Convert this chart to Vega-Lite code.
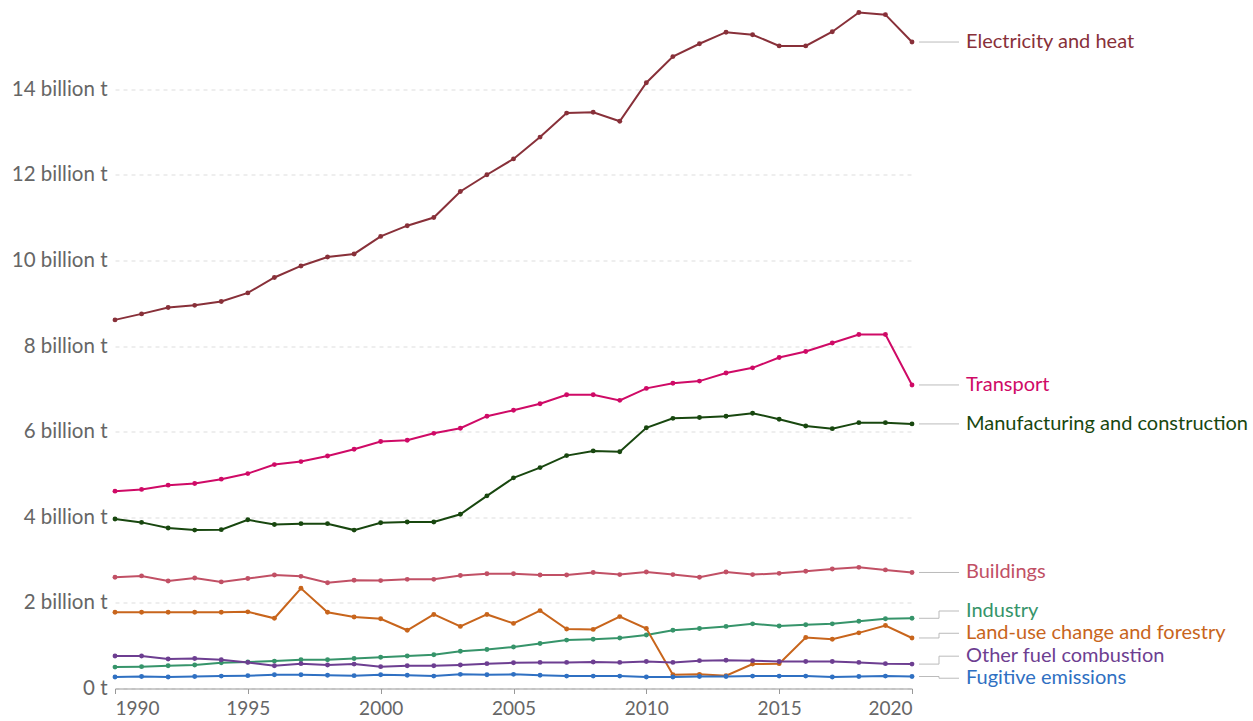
{
  "$schema": "https://vega.github.io/schema/vega-lite/v6.json",
  "autosize": "none",
  "width": 797,
  "height": 685,
  "padding": {"left": 115, "top": 3.5, "right": 341, "bottom": 32.5},
  "config": {"font": "Lato", "view": {"stroke": null}},
  "datasets": {
    "labels": [
      {"sector": "Electricity and heat", "labelAt": 15.10},
      {"sector": "Transport", "labelAt": 7.09},
      {"sector": "Manufacturing and construction", "labelAt": 6.18},
      {"sector": "Buildings", "labelAt": 2.71},
      {"sector": "Industry", "labelAt": 1.81},
      {"sector": "Land-use change and forestry", "labelAt": 1.29},
      {"sector": "Other fuel combustion", "labelAt": 0.755},
      {"sector": "Fugitive emissions", "labelAt": 0.24}
    ],
    "series": [
      {"sector":"Electricity and heat","year":1990,"value":8.61},{"sector":"Electricity and heat","year":1991,"value":8.75},{"sector":"Electricity and heat","year":1992,"value":8.90},{"sector":"Electricity and heat","year":1993,"value":8.95},{"sector":"Electricity and heat","year":1994,"value":9.04},{"sector":"Electricity and heat","year":1995,"value":9.24},{"sector":"Electricity and heat","year":1996,"value":9.60},{"sector":"Electricity and heat","year":1997,"value":9.87},{"sector":"Electricity and heat","year":1998,"value":10.08},{"sector":"Electricity and heat","year":1999,"value":10.15},{"sector":"Electricity and heat","year":2000,"value":10.56},{"sector":"Electricity and heat","year":2001,"value":10.81},{"sector":"Electricity and heat","year":2002,"value":11.00},{"sector":"Electricity and heat","year":2003,"value":11.61},{"sector":"Electricity and heat","year":2004,"value":12.00},{"sector":"Electricity and heat","year":2005,"value":12.37},{"sector":"Electricity and heat","year":2006,"value":12.88},{"sector":"Electricity and heat","year":2007,"value":13.44},{"sector":"Electricity and heat","year":2008,"value":13.46},{"sector":"Electricity and heat","year":2009,"value":13.25},{"sector":"Electricity and heat","year":2010,"value":14.15},{"sector":"Electricity and heat","year":2011,"value":14.76},{"sector":"Electricity and heat","year":2012,"value":15.06},{"sector":"Electricity and heat","year":2013,"value":15.33},{"sector":"Electricity and heat","year":2014,"value":15.27},{"sector":"Electricity and heat","year":2015,"value":15.01},{"sector":"Electricity and heat","year":2016,"value":15.01},{"sector":"Electricity and heat","year":2017,"value":15.34},{"sector":"Electricity and heat","year":2018,"value":15.79},{"sector":"Electricity and heat","year":2019,"value":15.74},{"sector":"Electricity and heat","year":2020,"value":15.10},
      {"sector":"Transport","year":1990,"value":4.61},{"sector":"Transport","year":1991,"value":4.65},{"sector":"Transport","year":1992,"value":4.75},{"sector":"Transport","year":1993,"value":4.79},{"sector":"Transport","year":1994,"value":4.89},{"sector":"Transport","year":1995,"value":5.02},{"sector":"Transport","year":1996,"value":5.23},{"sector":"Transport","year":1997,"value":5.30},{"sector":"Transport","year":1998,"value":5.43},{"sector":"Transport","year":1999,"value":5.59},{"sector":"Transport","year":2000,"value":5.77},{"sector":"Transport","year":2001,"value":5.80},{"sector":"Transport","year":2002,"value":5.96},{"sector":"Transport","year":2003,"value":6.08},{"sector":"Transport","year":2004,"value":6.36},{"sector":"Transport","year":2005,"value":6.50},{"sector":"Transport","year":2006,"value":6.65},{"sector":"Transport","year":2007,"value":6.86},{"sector":"Transport","year":2008,"value":6.86},{"sector":"Transport","year":2009,"value":6.73},{"sector":"Transport","year":2010,"value":7.01},{"sector":"Transport","year":2011,"value":7.13},{"sector":"Transport","year":2012,"value":7.18},{"sector":"Transport","year":2013,"value":7.37},{"sector":"Transport","year":2014,"value":7.49},{"sector":"Transport","year":2015,"value":7.73},{"sector":"Transport","year":2016,"value":7.87},{"sector":"Transport","year":2017,"value":8.07},{"sector":"Transport","year":2018,"value":8.27},{"sector":"Transport","year":2019,"value":8.27},{"sector":"Transport","year":2020,"value":7.09},
      {"sector":"Manufacturing and construction","year":1990,"value":3.96},{"sector":"Manufacturing and construction","year":1991,"value":3.88},{"sector":"Manufacturing and construction","year":1992,"value":3.75},{"sector":"Manufacturing and construction","year":1993,"value":3.70},{"sector":"Manufacturing and construction","year":1994,"value":3.71},{"sector":"Manufacturing and construction","year":1995,"value":3.94},{"sector":"Manufacturing and construction","year":1996,"value":3.83},{"sector":"Manufacturing and construction","year":1997,"value":3.85},{"sector":"Manufacturing and construction","year":1998,"value":3.85},{"sector":"Manufacturing and construction","year":1999,"value":3.70},{"sector":"Manufacturing and construction","year":2000,"value":3.87},{"sector":"Manufacturing and construction","year":2001,"value":3.89},{"sector":"Manufacturing and construction","year":2002,"value":3.89},{"sector":"Manufacturing and construction","year":2003,"value":4.07},{"sector":"Manufacturing and construction","year":2004,"value":4.50},{"sector":"Manufacturing and construction","year":2005,"value":4.92},{"sector":"Manufacturing and construction","year":2006,"value":5.16},{"sector":"Manufacturing and construction","year":2007,"value":5.44},{"sector":"Manufacturing and construction","year":2008,"value":5.55},{"sector":"Manufacturing and construction","year":2009,"value":5.53},{"sector":"Manufacturing and construction","year":2010,"value":6.09},{"sector":"Manufacturing and construction","year":2011,"value":6.31},{"sector":"Manufacturing and construction","year":2012,"value":6.33},{"sector":"Manufacturing and construction","year":2013,"value":6.36},{"sector":"Manufacturing and construction","year":2014,"value":6.43},{"sector":"Manufacturing and construction","year":2015,"value":6.29},{"sector":"Manufacturing and construction","year":2016,"value":6.13},{"sector":"Manufacturing and construction","year":2017,"value":6.07},{"sector":"Manufacturing and construction","year":2018,"value":6.21},{"sector":"Manufacturing and construction","year":2019,"value":6.21},{"sector":"Manufacturing and construction","year":2020,"value":6.18},
      {"sector":"Buildings","year":1990,"value":2.60},{"sector":"Buildings","year":1991,"value":2.63},{"sector":"Buildings","year":1992,"value":2.51},{"sector":"Buildings","year":1993,"value":2.58},{"sector":"Buildings","year":1994,"value":2.49},{"sector":"Buildings","year":1995,"value":2.57},{"sector":"Buildings","year":1996,"value":2.65},{"sector":"Buildings","year":1997,"value":2.62},{"sector":"Buildings","year":1998,"value":2.47},{"sector":"Buildings","year":1999,"value":2.53},{"sector":"Buildings","year":2000,"value":2.52},{"sector":"Buildings","year":2001,"value":2.55},{"sector":"Buildings","year":2002,"value":2.55},{"sector":"Buildings","year":2003,"value":2.64},{"sector":"Buildings","year":2004,"value":2.68},{"sector":"Buildings","year":2005,"value":2.68},{"sector":"Buildings","year":2006,"value":2.65},{"sector":"Buildings","year":2007,"value":2.65},{"sector":"Buildings","year":2008,"value":2.71},{"sector":"Buildings","year":2009,"value":2.66},{"sector":"Buildings","year":2010,"value":2.72},{"sector":"Buildings","year":2011,"value":2.66},{"sector":"Buildings","year":2012,"value":2.60},{"sector":"Buildings","year":2013,"value":2.72},{"sector":"Buildings","year":2014,"value":2.66},{"sector":"Buildings","year":2015,"value":2.69},{"sector":"Buildings","year":2016,"value":2.74},{"sector":"Buildings","year":2017,"value":2.79},{"sector":"Buildings","year":2018,"value":2.83},{"sector":"Buildings","year":2019,"value":2.77},{"sector":"Buildings","year":2020,"value":2.71},
      {"sector":"Industry","year":1990,"value":0.50},{"sector":"Industry","year":1991,"value":0.51},{"sector":"Industry","year":1992,"value":0.53},{"sector":"Industry","year":1993,"value":0.55},{"sector":"Industry","year":1994,"value":0.60},{"sector":"Industry","year":1995,"value":0.62},{"sector":"Industry","year":1996,"value":0.64},{"sector":"Industry","year":1997,"value":0.67},{"sector":"Industry","year":1998,"value":0.67},{"sector":"Industry","year":1999,"value":0.70},{"sector":"Industry","year":2000,"value":0.73},{"sector":"Industry","year":2001,"value":0.76},{"sector":"Industry","year":2002,"value":0.79},{"sector":"Industry","year":2003,"value":0.87},{"sector":"Industry","year":2004,"value":0.91},{"sector":"Industry","year":2005,"value":0.97},{"sector":"Industry","year":2006,"value":1.05},{"sector":"Industry","year":2007,"value":1.13},{"sector":"Industry","year":2008,"value":1.15},{"sector":"Industry","year":2009,"value":1.18},{"sector":"Industry","year":2010,"value":1.25},{"sector":"Industry","year":2011,"value":1.36},{"sector":"Industry","year":2012,"value":1.40},{"sector":"Industry","year":2013,"value":1.45},{"sector":"Industry","year":2014,"value":1.51},{"sector":"Industry","year":2015,"value":1.46},{"sector":"Industry","year":2016,"value":1.49},{"sector":"Industry","year":2017,"value":1.51},{"sector":"Industry","year":2018,"value":1.57},{"sector":"Industry","year":2019,"value":1.63},{"sector":"Industry","year":2020,"value":1.64},
      {"sector":"Land-use change and forestry","year":1990,"value":1.78},{"sector":"Land-use change and forestry","year":1991,"value":1.78},{"sector":"Land-use change and forestry","year":1992,"value":1.78},{"sector":"Land-use change and forestry","year":1993,"value":1.78},{"sector":"Land-use change and forestry","year":1994,"value":1.78},{"sector":"Land-use change and forestry","year":1995,"value":1.79},{"sector":"Land-use change and forestry","year":1996,"value":1.64},{"sector":"Land-use change and forestry","year":1997,"value":2.34},{"sector":"Land-use change and forestry","year":1998,"value":1.78},{"sector":"Land-use change and forestry","year":1999,"value":1.67},{"sector":"Land-use change and forestry","year":2000,"value":1.63},{"sector":"Land-use change and forestry","year":2001,"value":1.36},{"sector":"Land-use change and forestry","year":2002,"value":1.73},{"sector":"Land-use change and forestry","year":2003,"value":1.45},{"sector":"Land-use change and forestry","year":2004,"value":1.73},{"sector":"Land-use change and forestry","year":2005,"value":1.52},{"sector":"Land-use change and forestry","year":2006,"value":1.82},{"sector":"Land-use change and forestry","year":2007,"value":1.39},{"sector":"Land-use change and forestry","year":2008,"value":1.38},{"sector":"Land-use change and forestry","year":2009,"value":1.68},{"sector":"Land-use change and forestry","year":2010,"value":1.40},{"sector":"Land-use change and forestry","year":2011,"value":0.32},{"sector":"Land-use change and forestry","year":2012,"value":0.33},{"sector":"Land-use change and forestry","year":2013,"value":0.30},{"sector":"Land-use change and forestry","year":2014,"value":0.57},{"sector":"Land-use change and forestry","year":2015,"value":0.58},{"sector":"Land-use change and forestry","year":2016,"value":1.19},{"sector":"Land-use change and forestry","year":2017,"value":1.15},{"sector":"Land-use change and forestry","year":2018,"value":1.30},{"sector":"Land-use change and forestry","year":2019,"value":1.47},{"sector":"Land-use change and forestry","year":2020,"value":1.18},
      {"sector":"Other fuel combustion","year":1990,"value":0.76},{"sector":"Other fuel combustion","year":1991,"value":0.76},{"sector":"Other fuel combustion","year":1992,"value":0.69},{"sector":"Other fuel combustion","year":1993,"value":0.70},{"sector":"Other fuel combustion","year":1994,"value":0.67},{"sector":"Other fuel combustion","year":1995,"value":0.61},{"sector":"Other fuel combustion","year":1996,"value":0.53},{"sector":"Other fuel combustion","year":1997,"value":0.58},{"sector":"Other fuel combustion","year":1998,"value":0.55},{"sector":"Other fuel combustion","year":1999,"value":0.57},{"sector":"Other fuel combustion","year":2000,"value":0.51},{"sector":"Other fuel combustion","year":2001,"value":0.53},{"sector":"Other fuel combustion","year":2002,"value":0.53},{"sector":"Other fuel combustion","year":2003,"value":0.55},{"sector":"Other fuel combustion","year":2004,"value":0.58},{"sector":"Other fuel combustion","year":2005,"value":0.60},{"sector":"Other fuel combustion","year":2006,"value":0.61},{"sector":"Other fuel combustion","year":2007,"value":0.61},{"sector":"Other fuel combustion","year":2008,"value":0.62},{"sector":"Other fuel combustion","year":2009,"value":0.61},{"sector":"Other fuel combustion","year":2010,"value":0.63},{"sector":"Other fuel combustion","year":2011,"value":0.61},{"sector":"Other fuel combustion","year":2012,"value":0.65},{"sector":"Other fuel combustion","year":2013,"value":0.66},{"sector":"Other fuel combustion","year":2014,"value":0.65},{"sector":"Other fuel combustion","year":2015,"value":0.63},{"sector":"Other fuel combustion","year":2016,"value":0.63},{"sector":"Other fuel combustion","year":2017,"value":0.63},{"sector":"Other fuel combustion","year":2018,"value":0.61},{"sector":"Other fuel combustion","year":2019,"value":0.58},{"sector":"Other fuel combustion","year":2020,"value":0.57},
      {"sector":"Fugitive emissions","year":1990,"value":0.27},{"sector":"Fugitive emissions","year":1991,"value":0.28},{"sector":"Fugitive emissions","year":1992,"value":0.27},{"sector":"Fugitive emissions","year":1993,"value":0.28},{"sector":"Fugitive emissions","year":1994,"value":0.29},{"sector":"Fugitive emissions","year":1995,"value":0.30},{"sector":"Fugitive emissions","year":1996,"value":0.32},{"sector":"Fugitive emissions","year":1997,"value":0.32},{"sector":"Fugitive emissions","year":1998,"value":0.31},{"sector":"Fugitive emissions","year":1999,"value":0.30},{"sector":"Fugitive emissions","year":2000,"value":0.32},{"sector":"Fugitive emissions","year":2001,"value":0.31},{"sector":"Fugitive emissions","year":2002,"value":0.29},{"sector":"Fugitive emissions","year":2003,"value":0.33},{"sector":"Fugitive emissions","year":2004,"value":0.32},{"sector":"Fugitive emissions","year":2005,"value":0.33},{"sector":"Fugitive emissions","year":2006,"value":0.31},{"sector":"Fugitive emissions","year":2007,"value":0.29},{"sector":"Fugitive emissions","year":2008,"value":0.29},{"sector":"Fugitive emissions","year":2009,"value":0.29},{"sector":"Fugitive emissions","year":2010,"value":0.27},{"sector":"Fugitive emissions","year":2011,"value":0.27},{"sector":"Fugitive emissions","year":2012,"value":0.28},{"sector":"Fugitive emissions","year":2013,"value":0.28},{"sector":"Fugitive emissions","year":2014,"value":0.29},{"sector":"Fugitive emissions","year":2015,"value":0.29},{"sector":"Fugitive emissions","year":2016,"value":0.29},{"sector":"Fugitive emissions","year":2017,"value":0.27},{"sector":"Fugitive emissions","year":2018,"value":0.28},{"sector":"Fugitive emissions","year":2019,"value":0.29},{"sector":"Fugitive emissions","year":2020,"value":0.28}
    ]
  },
  "data": {"name": "series"},
  "layer": [
    {
      "mark": {"type": "line", "strokeWidth": 2},
      "encoding": {
        "x": {"field": "year", "type": "quantitative", "scale": {"domain": [1990, 2020], "nice": false, "zero": false},
          "axis": {"values": [1990, 1995, 2000, 2005, 2010, 2015, 2020], "format": "d", "title": null, "grid": false, "labelFlush": true,
            "domainColor": "#999999", "tickColor": "#999999", "tickSize": 5, "labelFontSize": 19, "labelColor": "#666666", "labelPadding": 6}},
        "y": {"field": "value", "type": "quantitative", "scale": {"domain": [0, 16], "nice": false},
          "axis": {"values": [0, 2, 4, 6, 8, 10, 12, 14], "title": null, "domain": false, "ticks": false, "labelPadding": 8,
            "labelExpr": "datum.value == 0 ? '0 t' : datum.value + ' billion t'",
            "labelFontSize": 20.5, "labelColor": "#666666", "gridColor": "#dddddd", "gridDash": [4, 4], "gridWidth": 1}},
        "color": {"field": "sector", "type": "nominal", "legend": null,
          "scale": {"domain": ["Electricity and heat", "Transport", "Manufacturing and construction", "Buildings", "Industry", "Land-use change and forestry", "Other fuel combustion", "Fugitive emissions"],
            "range": ["#883039", "#CF0A66", "#18470F", "#C15065", "#36946A", "#C8651C", "#6D3E91", "#2F70C2"]}},
        "detail": {"field": "sector"}
      }
    },
    {
      "mark": {"type": "point", "filled": true, "size": 24, "opacity": 1},
      "encoding": {
        "x": {"field": "year", "type": "quantitative"},
        "y": {"field": "value", "type": "quantitative"},
        "color": {"field": "sector", "type": "nominal", "legend": null}
      }
    },
    {
      "transform": [{"filter": "datum.year == 2020"}, {"lookup": "sector", "from": {"data": {"name": "labels"}, "key": "sector", "fields": ["labelAt"]}}],
      "layer": [
        {
          "mark": {"type": "rule", "color": "#bbbbbb", "strokeWidth": 1, "xOffset": 7, "x2Offset": 27},
          "encoding": {
            "x": {"datum": 2020, "type": "quantitative"},
            "x2": {"datum": 2020},
            "y": {"field": "value", "type": "quantitative"}
          }
        },
        {
          "mark": {"type": "rule", "color": "#bbbbbb", "strokeWidth": 1, "xOffset": 27},
          "encoding": {
            "x": {"datum": 2020, "type": "quantitative"},
            "y": {"field": "value", "type": "quantitative"},
            "y2": {"field": "labelAt"}
          }
        },
        {
          "mark": {"type": "rule", "color": "#bbbbbb", "strokeWidth": 1, "xOffset": 27, "x2Offset": 47},
          "encoding": {
            "x": {"datum": 2020, "type": "quantitative"},
            "x2": {"datum": 2020},
            "y": {"field": "labelAt", "type": "quantitative"}
          }
        },
        {
          "mark": {"type": "text", "align": "left", "baseline": "middle", "dx": 54, "fontSize": 20},
          "encoding": {
            "x": {"datum": 2020, "type": "quantitative"},
            "y": {"field": "labelAt", "type": "quantitative"},
            "text": {"field": "sector"},
            "color": {"field": "sector", "type": "nominal", "legend": null}
          }
        }
      ]
    }
  ]
}
